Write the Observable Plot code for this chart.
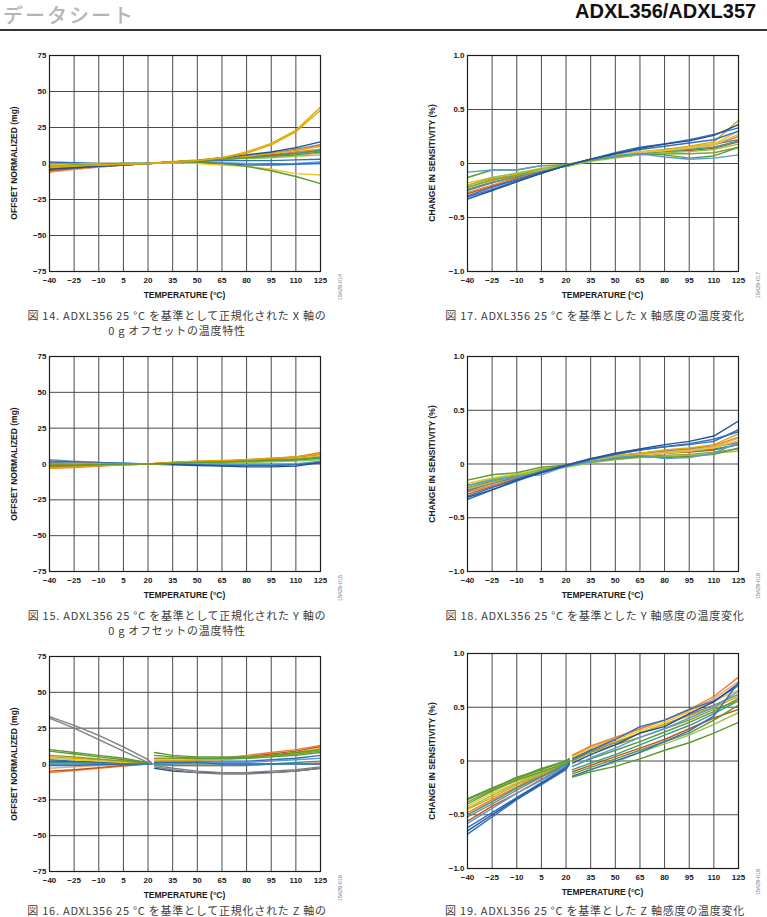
<!DOCTYPE html>
<html>
<head>
<meta charset="utf-8">
<script src="https://cdn.jsdelivr.net/npm/d3@7"></script>
<script src="https://cdn.jsdelivr.net/npm/@observablehq/plot@0.6"></script>
<style>
  html, body { margin: 0; padding: 0; background: #fff; }
  #page { position: relative; width: 767px; height: 917px; overflow: hidden; background: #fff; }
  .abs { position: absolute; white-space: nowrap; }
  .cap { font-family: "Noto Sans CJK JP", "Noto Sans", sans-serif; font-size: 11px; line-height: 12px; color: #3c3c3c; letter-spacing: 0.75px; transform: translate(-50%, -50%); }
  .xt { font-family: "Liberation Sans", Arial, sans-serif; font-weight: bold; font-size: 8.5px; color: #1a1a1a; transform: translate(-50%, -50%); }
  .yt { font-family: "Liberation Sans", Arial, sans-serif; font-weight: bold; font-size: 8.5px; color: #1a1a1a; transform: translate(-50%, -50%) rotate(-90deg); }
  .code { font-family: "Liberation Sans", Arial, sans-serif; font-size: 5.5px; color: #777; transform: translate(-50%, -50%) rotate(-90deg); }
</style>
</head>
<body>
<div id="page"></div>
<script>
// ---------- data ----------
const TEMPS = [-40, -25, -10, 5, 20, 35, 50, 65, 80, 95, 110, 125];
const TEMPS_COLD = [-40, -25, -10, 5, 20, 22];
const TEMPS_HOT = [24, 35, 50, 65, 80, 95, 110, 125];
const X_TICKS = [-40, -25, -10, 5, 20, 35, 50, 65, 80, 95, 110, 125];
const OFFSET_TICKS = [-75, -50, -25, 0, 25, 50, 75];
const SENS_TICKS = [-1, -0.5, 0, 0.5, 1];

const PALETTE = {
  blue: "#2e6fc2", darkblue: "#24508f", lightblue: "#5b9bd5",
  orange: "#ed7d31", darkorange: "#c0561a", salmon: "#f2a07a",
  gold: "#dfa900", yellow: "#f0c420", tan: "#d6b46c",
  green: "#5a9a34", lightgreen: "#92c24e", olive: "#8f9a2c",
  gray: "#7f7f7f", teal: "#3a9888"
};

// Fig 14: X-axis 0 g offset (mg) at TEMPS
const fig14 = [
  ["orange",     [-6, -4, -2.5, -1, 0, 1, 2, 3, 5, 6, 8, 10]],
  ["salmon",     [-6, -4, -2.5, -1, 0, 1, 2, 3, 4, 5, 6, 7]],
  ["darkorange", [-5, -3.5, -2, -1, 0, 1, 2, 3, 4, 6, 7, 9]],
  ["gray",       [-3, -2, -1.5, -0.5, 0, 1, 2, 3, 5, 7, 10, 13]],
  ["teal",       [-4, -3, -2, -1, 0, 1, 2, 3, 4, 5, 7, 9]],
  ["lightgreen", [-2, -1.5, -1, -0.5, 0, 1, 2, 3, 3.5, 4, 5, 6]],
  ["green",      [-3, -2, -1.5, -0.5, 0, 1, 2, 3, 4, 5, 6, 8]],
  ["gold",       [-3, -2, -1, -0.5, 0, 1.5, 2.5, 4, 5, 7, 9, 12]],
  ["lightblue",  [0, 0, 0, 0, 0, 0.5, 1, 0.5, 0, -0.5, 0, 1]],
  ["blue",       [-1, -1, -0.5, 0, 0, 1, 1.5, 2, 2, 2, 2.5, 3]],
  ["blue",       [1, 0.5, 0, 0, 0, 0.5, 0.5, 0, -1, -1, -0.5, 0]],
  ["darkblue",   [-4, -3, -2, -1, 0, 1, 2, 4, 6, 8, 11, 15]],
  ["yellow",     [-1, -0.5, 0, 0, 0, 0.5, 0, -1, -2, -4, -7, -8]],
  ["green",      [-2, -1, -0.5, 0, 0, 1, 1, 0, -2, -5, -9, -14]],
  ["gold",       [-2, -1.5, -1, -0.5, 0, 1, 2, 4, 8, 14, 23, 39]],
  ["gold",       [-2, -1.5, -1, -0.5, 0, 1, 2, 4, 7, 13, 22, 37]]
];

// Fig 15: Y-axis 0 g offset (mg) at TEMPS
const fig15 = [
  ["lightblue",  [3, 2, 1, 0.5, 0, 0, 0, 0, -0.5, -0.5, 0, 2]],
  ["blue",       [2, 1.5, 1, 0.5, 0, 0, -0.5, -1, -1, -1, -0.5, 1]],
  ["darkblue",   [1, 1, 0.5, 0, 0, -0.5, -1, -1.5, -2, -2, -1.5, 1]],
  ["gray",       [1, 1, 0.5, 0, 0, 0.5, 1, 1, 1.5, 2, 3, 4]],
  ["teal",       [-1, -1, -0.5, 0, 0, 0.5, 1, 1, 2, 2, 3, 4]],
  ["lightgreen", [0, 0, 0, 0, 0, 0.5, 0.5, 1, 1, 1.5, 2, 3]],
  ["olive",      [0, -0.5, -0.5, 0, 0, 0.5, 1, 1.5, 2, 3, 4, 6]],
  ["yellow",     [-2, -1.5, -1, -0.5, 0, 1, 1.5, 2, 2.5, 3.5, 4.5, 6]],
  ["darkorange", [-2, -2, -1, -0.5, 0, 1, 1.5, 2, 3, 3.5, 5, 7]],
  ["orange",     [-3, -2.5, -1.5, -0.5, 0, 1, 2, 2, 3, 4, 5, 8]],
  ["gold",       [-3, -2, -1, -0.5, 0, 1, 2, 2.5, 3, 4, 5, 7]],
  ["green",      [-1, -1, -0.5, 0, 0, 0.5, 1, 1.5, 2, 2.5, 3, 5]]
];

// Fig 16: Z-axis 0 g offset (mg); cold part at TEMPS_COLD, hot part at TEMPS_HOT
const fig16Cold = [
  ["salmon",     [-3, -2, -1, -0.5, 0, 0]],
  ["orange",     [-6, -4.5, -3, -1.5, 0, 0]],
  ["darkorange", [-5, -4, -2.5, -1, 0, 0]],
  ["lightblue",  [0, 0, 0, 0, 0, 0]],
  ["blue",       [3, 2, 1.5, 1, 0, 0]],
  ["darkblue",   [2, 1.5, 1, 0.5, 0, 0]],
  ["teal",       [1, 1, 0.5, 0, 0, 0]],
  ["yellow",     [4, 3, 2, 1, 0, 0]],
  ["gold",       [5, 4, 3, 2, 0.5, 0]],
  ["olive",      [6, 5, 3.5, 2, 0.5, 0]],
  ["green",      [9, 7, 5, 3, 1, 0]],
  ["green",      [10, 8, 6, 4, 1, 0]],
  ["blue",       [-1, -1, -0.5, 0, 0, 0]],
  ["gray",       [33, 27, 20, 12, 3, 1]],
  ["gray",       [32, 25, 17, 9, 1, 0]]
];
const fig16Hot = [
  ["salmon",     [-1, -1, -1, -1, -1, 0, 0, 1]],
  ["orange",     [2, 3, 3, 4, 6, 8, 10, 13]],
  ["darkorange", [1, 2, 3, 4, 5, 7, 9, 12]],
  ["lightblue",  [0, 0, 1, 1, 1, 2, 3, 4]],
  ["blue",       [1, 2, 2, 2, 2, 3, 4, 6]],
  ["darkblue",   [-3, -5, -6, -6, -6, -6, -5, -3]],
  ["teal",       [0, -1, -1, -1, -1, 0, 1, 2]],
  ["yellow",     [3, 3, 3, 4, 5, 6, 8, 11]],
  ["gold",       [2, 2, 3, 3, 4, 5, 7, 10]],
  ["olive",      [4, 4, 4, 4, 5, 6, 7, 9]],
  ["green",      [6, 5, 4, 4, 4, 5, 6, 8]],
  ["green",      [8, 6, 5, 5, 5, 6, 8, 10]],
  ["blue",       [1, 1, 1, 0, 0, 0, 0, 0]],
  ["gray",       [-2, -4, -6, -7, -7, -6, -5, -3]],
  ["gray",       [-1, -3, -5, -6, -6, -5, -4, -2]]
];

// Fig 17: X-axis sensitivity change (%) at TEMPS
const fig17 = [
  ["darkorange", [-0.28, -0.21, -0.14, -0.08, -0.02, 0.03, 0.07, 0.09, 0.11, 0.12, 0.14, 0.2]],
  ["orange",     [-0.27, -0.2, -0.13, -0.07, -0.02, 0.03, 0.07, 0.1, 0.12, 0.14, 0.17, 0.25]],
  ["gray",       [-0.25, -0.18, -0.12, -0.07, -0.02, 0.03, 0.07, 0.1, 0.13, 0.15, 0.18, 0.22]],
  ["teal",       [-0.24, -0.17, -0.12, -0.06, -0.02, 0.03, 0.06, 0.09, 0.11, 0.13, 0.15, 0.21]],
  ["tan",        [-0.22, -0.16, -0.11, -0.06, -0.02, 0.03, 0.07, 0.1, 0.12, 0.14, 0.17, 0.27]],
  ["gold",       [-0.2, -0.14, -0.1, -0.05, -0.02, 0.04, 0.08, 0.11, 0.13, 0.16, 0.2, 0.4]],
  ["yellow",     [-0.18, -0.13, -0.09, -0.04, -0.01, 0.04, 0.08, 0.11, 0.12, 0.15, 0.18, 0.3]],
  ["olive",      [-0.22, -0.15, -0.11, -0.05, -0.02, 0.03, 0.06, 0.08, 0.09, 0.09, 0.1, 0.15]],
  ["lightgreen", [-0.2, -0.13, -0.09, -0.05, -0.03, 0.02, 0.05, 0.08, 0.1, 0.11, 0.13, 0.18]],
  ["green",      [-0.13, -0.06, -0.06, -0.02, -0.01, 0.03, 0.07, 0.09, 0.08, 0.05, 0.07, 0.15]],
  ["lightblue",  [-0.08, -0.06, -0.06, -0.02, -0.02, 0.04, 0.07, 0.09, 0.06, 0.04, 0.05, 0.08]],
  ["blue",       [-0.3, -0.22, -0.15, -0.08, -0.02, 0.04, 0.09, 0.13, 0.16, 0.19, 0.22, 0.3]],
  ["blue",       [-0.31, -0.24, -0.16, -0.09, -0.02, 0.04, 0.1, 0.15, 0.18, 0.22, 0.27, 0.33]],
  ["darkblue",   [-0.33, -0.25, -0.17, -0.09, -0.02, 0.04, 0.09, 0.14, 0.18, 0.21, 0.26, 0.36]]
];

// Fig 18: Y-axis sensitivity change (%) at TEMPS
const fig18 = [
  ["darkorange", [-0.28, -0.21, -0.14, -0.08, -0.02, 0.03, 0.06, 0.08, 0.1, 0.11, 0.13, 0.18]],
  ["orange",     [-0.26, -0.2, -0.13, -0.07, -0.02, 0.03, 0.07, 0.1, 0.12, 0.14, 0.17, 0.25]],
  ["gray",       [-0.25, -0.18, -0.12, -0.06, -0.02, 0.03, 0.07, 0.1, 0.12, 0.14, 0.16, 0.2]],
  ["teal",       [-0.24, -0.18, -0.12, -0.06, -0.02, 0.02, 0.05, 0.08, 0.1, 0.12, 0.14, 0.18]],
  ["tan",        [-0.23, -0.17, -0.11, -0.06, -0.02, 0.03, 0.07, 0.09, 0.11, 0.13, 0.16, 0.24]],
  ["gold",       [-0.2, -0.15, -0.1, -0.05, -0.01, 0.04, 0.08, 0.1, 0.13, 0.15, 0.18, 0.28]],
  ["yellow",     [-0.18, -0.13, -0.09, -0.05, -0.02, 0.03, 0.06, 0.08, 0.1, 0.12, 0.15, 0.22]],
  ["olive",      [-0.22, -0.16, -0.11, -0.05, -0.02, 0.02, 0.05, 0.07, 0.08, 0.09, 0.11, 0.14]],
  ["lightgreen", [-0.2, -0.14, -0.1, -0.06, -0.03, 0.01, 0.04, 0.06, 0.07, 0.08, 0.1, 0.12]],
  ["green",      [-0.15, -0.1, -0.08, -0.03, -0.01, 0.02, 0.05, 0.07, 0.06, 0.07, 0.09, 0.15]],
  ["lightblue",  [-0.2, -0.15, -0.12, -0.1, -0.02, 0.02, 0.06, 0.08, 0.05, 0.06, 0.1, 0.2]],
  ["blue",       [-0.3, -0.22, -0.14, -0.07, -0.01, 0.05, 0.09, 0.13, 0.16, 0.19, 0.23, 0.3]],
  ["blue",       [-0.33, -0.24, -0.16, -0.08, -0.02, 0.04, 0.09, 0.13, 0.16, 0.18, 0.21, 0.32]],
  ["darkblue",   [-0.31, -0.24, -0.15, -0.08, -0.01, 0.05, 0.1, 0.14, 0.18, 0.21, 0.26, 0.4]]
];

// Fig 19: Z-axis sensitivity change (%); cold part at TEMPS_COLD, hot part at TEMPS_HOT
const fig19Cold = [
  ["salmon",     [-0.5, -0.37, -0.25, -0.13, -0.03, 0]],
  ["orange",     [-0.48, -0.36, -0.24, -0.12, -0.02, 0]],
  ["darkorange", [-0.56, -0.42, -0.3, -0.17, -0.05, -0.02]],
  ["gray",       [-0.52, -0.4, -0.27, -0.15, -0.04, -0.01]],
  ["gold",       [-0.45, -0.34, -0.22, -0.12, -0.02, 0]],
  ["yellow",     [-0.42, -0.3, -0.2, -0.1, -0.02, 0.01]],
  ["teal",       [-0.5, -0.38, -0.25, -0.14, -0.03, 0]],
  ["olive",      [-0.38, -0.27, -0.17, -0.08, 0, 0.02]],
  ["lightgreen", [-0.44, -0.32, -0.21, -0.11, -0.01, 0.01]],
  ["green",      [-0.4, -0.28, -0.18, -0.1, -0.02, 0]],
  ["green",      [-0.35, -0.25, -0.16, -0.07, 0, 0.02]],
  ["green",      [-0.36, -0.26, -0.15, -0.08, 0, 0.02]],
  ["lightblue",  [-0.58, -0.44, -0.3, -0.18, -0.05, -0.02]],
  ["blue",       [-0.62, -0.48, -0.34, -0.2, -0.06, -0.02]],
  ["darkblue",   [-0.65, -0.5, -0.35, -0.21, -0.07, -0.03]],
  ["blue",       [-0.68, -0.52, -0.36, -0.22, -0.08, -0.03]]
];
const fig19Hot = [
  ["salmon",     [0.06, 0.13, 0.21, 0.3, 0.38, 0.47, 0.58, 0.74]],
  ["orange",     [0.05, 0.14, 0.22, 0.3, 0.38, 0.48, 0.6, 0.78]],
  ["darkorange", [-0.1, -0.04, 0.04, 0.12, 0.2, 0.3, 0.4, 0.48]],
  ["gray",       [0.01, 0.09, 0.17, 0.26, 0.34, 0.43, 0.52, 0.62]],
  ["gold",       [0.03, 0.1, 0.18, 0.26, 0.34, 0.42, 0.5, 0.6]],
  ["yellow",     [0.04, 0.12, 0.2, 0.28, 0.36, 0.46, 0.56, 0.66]],
  ["teal",       [-0.08, -0.02, 0.06, 0.15, 0.24, 0.33, 0.44, 0.56]],
  ["olive",      [0, 0.08, 0.15, 0.22, 0.3, 0.38, 0.48, 0.56]],
  ["lightgreen", [-0.14, -0.08, -0.01, 0.08, 0.16, 0.24, 0.34, 0.45]],
  ["green",      [-0.12, -0.06, 0.02, 0.1, 0.18, 0.26, 0.38, 0.52]],
  ["green",      [-0.05, 0.02, 0.1, 0.18, 0.27, 0.36, 0.46, 0.58]],
  ["green",      [-0.15, -0.1, -0.05, 0.02, 0.1, 0.17, 0.26, 0.36]],
  ["lightblue",  [-0.05, 0.03, 0.12, 0.22, 0.3, 0.4, 0.5, 0.65]],
  ["blue",       [0.02, 0.1, 0.2, 0.32, 0.38, 0.48, 0.56, 0.7]],
  ["darkblue",   [-0.02, 0.06, 0.15, 0.26, 0.32, 0.44, 0.55, 0.72]],
  ["blue",       [-0.14, -0.08, 0, 0.08, 0.18, 0.28, 0.42, 0.73]]
];

const CAPTIONS = {
  f14: ["図 14. ADXL356 25 °C を基準として正規化された X 軸の", "0 g オフセットの温度特性"],
  f15: ["図 15. ADXL356 25 °C を基準として正規化された Y 軸の", "0 g オフセットの温度特性"],
  f16: ["図 16. ADXL356 25 °C を基準として正規化された Z 軸の"],
  f17: ["図 17. ADXL356 25 °C を基準とした X 軸感度の温度変化"],
  f18: ["図 18. ADXL356 25 °C を基準とした Y 軸感度の温度変化"],
  f19: ["図 19. ADXL356 25 °C を基準とした Z 軸感度の温度変化"]
};
const CODES = { f14: "15429-014", f15: "15429-015", f16: "15429-016", f17: "15429-017", f18: "15429-018", f19: "15429-019" };
const X_TITLE = "TEMPERATURE (°C)";
const Y_TITLE_OFFSET = "OFFSET NORMALIZED (mg)";
const Y_TITLE_SENS = "CHANGE IN SENSITIVITY (%)";

// ---------- helpers ----------
const page = document.getElementById("page");
function addText(cls, text, x, y, extra) {
  const d = document.createElement("div");
  d.className = "abs " + cls;
  d.textContent = text;
  d.style.left = x + "px";
  d.style.top = y + "px";
  if (extra) Object.assign(d.style, extra);
  page.appendChild(d);
  return d;
}
function rows(series, temps, seg) {
  return series.flatMap(([col, vals], i) =>
    vals.map((v, j) => ({ t: temps[j], v, k: seg + i, c: PALETTE[col] })));
}
const fmtOffset = d => d < 0 ? "\u2212" + Math.abs(d) : String(d);
const fmtSens = d => d === 0 ? "0" : (d < 0 ? "\u2212" : "") + Math.abs(d).toFixed(1);
const fmtX = d => d < 0 ? "\u2212" + Math.abs(d) : String(d);

function panel({ side, top, bottom, yDomain, yTicks, yFmt, data }) {
  const svgLeft = side === "L" ? 0 : 395;
  const width = side === "L" ? 340 : 360;
  const ml = side === "L" ? 49 : 72;
  const mr = side === "L" ? 20 : 17;
  const mt = 10, mb = 35;
  const h = (bottom - top) + mt + mb;
  const chart = Plot.plot({
    width, height: h,
    marginLeft: ml, marginRight: mr, marginTop: mt, marginBottom: mb,
    x: { domain: [-40, 125] },
    y: { domain: yDomain },
    color: { type: "identity" },
    style: { fontFamily: "Liberation Sans, Arial, sans-serif", fontSize: "8px", fontWeight: "bold", color: "#1a1a1a", background: "transparent", overflow: "visible" },
    marks: [
      Plot.gridX(X_TICKS, { stroke: "#4a4a4a", strokeOpacity: 1, strokeWidth: 1 }),
      Plot.gridY(yTicks, { stroke: "#4a4a4a", strokeOpacity: 1, strokeWidth: 1 }),
      Plot.line(data, { x: "t", y: "v", z: "k", stroke: "c", strokeWidth: 1.4, strokeLinejoin: "round" }),
      Plot.frame({ stroke: "#1e1e1e", strokeWidth: 1.2 }),
      Plot.axisX(X_TICKS, { tickSize: 0, tickPadding: 6, tickFormat: fmtX, label: null }),
      Plot.axisY(yTicks, { tickSize: 0, tickPadding: 3, tickFormat: yFmt, label: null })
    ]
  });
  chart.style.position = "absolute";
  chart.style.left = svgLeft + "px";
  chart.style.top = (top - mt) + "px";
  page.appendChild(chart);
  const cx = svgLeft + ml + (width - ml - mr) / 2;
  const cy = (top + bottom) / 2;
  addText("xt", X_TITLE, cx, bottom + 24);
  addText("yt", yTicks === OFFSET_TICKS ? Y_TITLE_OFFSET : Y_TITLE_SENS, side === "L" ? 14 : 432, cy);
}

// ---------- header ----------
addText("", "データシート", 3, 0, { fontFamily: "'Noto Sans CJK JP', sans-serif", fontSize: "20px", fontWeight: "500", color: "#b5b5b5", letterSpacing: "2px" });
addText("", "ADXL356/ADXL357", 575, 0, { fontFamily: "'Liberation Sans', Arial, sans-serif", fontSize: "20px", fontWeight: "bold", color: "#111" });
const rule = document.createElement("div");
Object.assign(rule.style, { position: "absolute", left: "0px", top: "29px", width: "767px", height: "1.5px", background: "#333" });
page.appendChild(rule);

// ---------- panels ----------
panel({ side: "L", top: 55, bottom: 271, yDomain: [-75, 75], yTicks: OFFSET_TICKS, yFmt: fmtOffset, data: rows(fig14, TEMPS, "a") });
panel({ side: "L", top: 356, bottom: 571, yDomain: [-75, 75], yTicks: OFFSET_TICKS, yFmt: fmtOffset, data: rows(fig15, TEMPS, "a") });
panel({ side: "L", top: 656, bottom: 871, yDomain: [-75, 75], yTicks: OFFSET_TICKS, yFmt: fmtOffset,
  data: rows(fig16Cold, TEMPS_COLD, "c").concat(rows(fig16Hot, TEMPS_HOT, "h")) });
panel({ side: "R", top: 55, bottom: 271, yDomain: [-1, 1], yTicks: SENS_TICKS, yFmt: fmtSens, data: rows(fig17, TEMPS, "a") });
panel({ side: "R", top: 356, bottom: 571, yDomain: [-1, 1], yTicks: SENS_TICKS, yFmt: fmtSens, data: rows(fig18, TEMPS, "a") });
panel({ side: "R", top: 653, bottom: 868, yDomain: [-1, 1], yTicks: SENS_TICKS, yFmt: fmtSens,
  data: rows(fig19Cold, TEMPS_COLD, "c").concat(rows(fig19Hot, TEMPS_HOT, "h")) });

// ---------- captions & codes ----------
addText("cap", CAPTIONS.f14[0], 177, 315); addText("cap", CAPTIONS.f14[1], 177, 330);
addText("cap", CAPTIONS.f15[0], 177, 615); addText("cap", CAPTIONS.f15[1], 177, 630);
addText("cap", CAPTIONS.f16[0], 177, 910);
addText("cap", CAPTIONS.f17[0], 595, 315);
addText("cap", CAPTIONS.f18[0], 595, 615);
addText("cap", CAPTIONS.f19[0], 595, 910);
addText("code", CODES.f14, 340, 287);
addText("code", CODES.f15, 340, 588);
addText("code", CODES.f16, 340, 888);
addText("code", CODES.f17, 758, 285);
addText("code", CODES.f18, 758, 586);
addText("code", CODES.f19, 758, 882);
</script>
</body>
</html>
